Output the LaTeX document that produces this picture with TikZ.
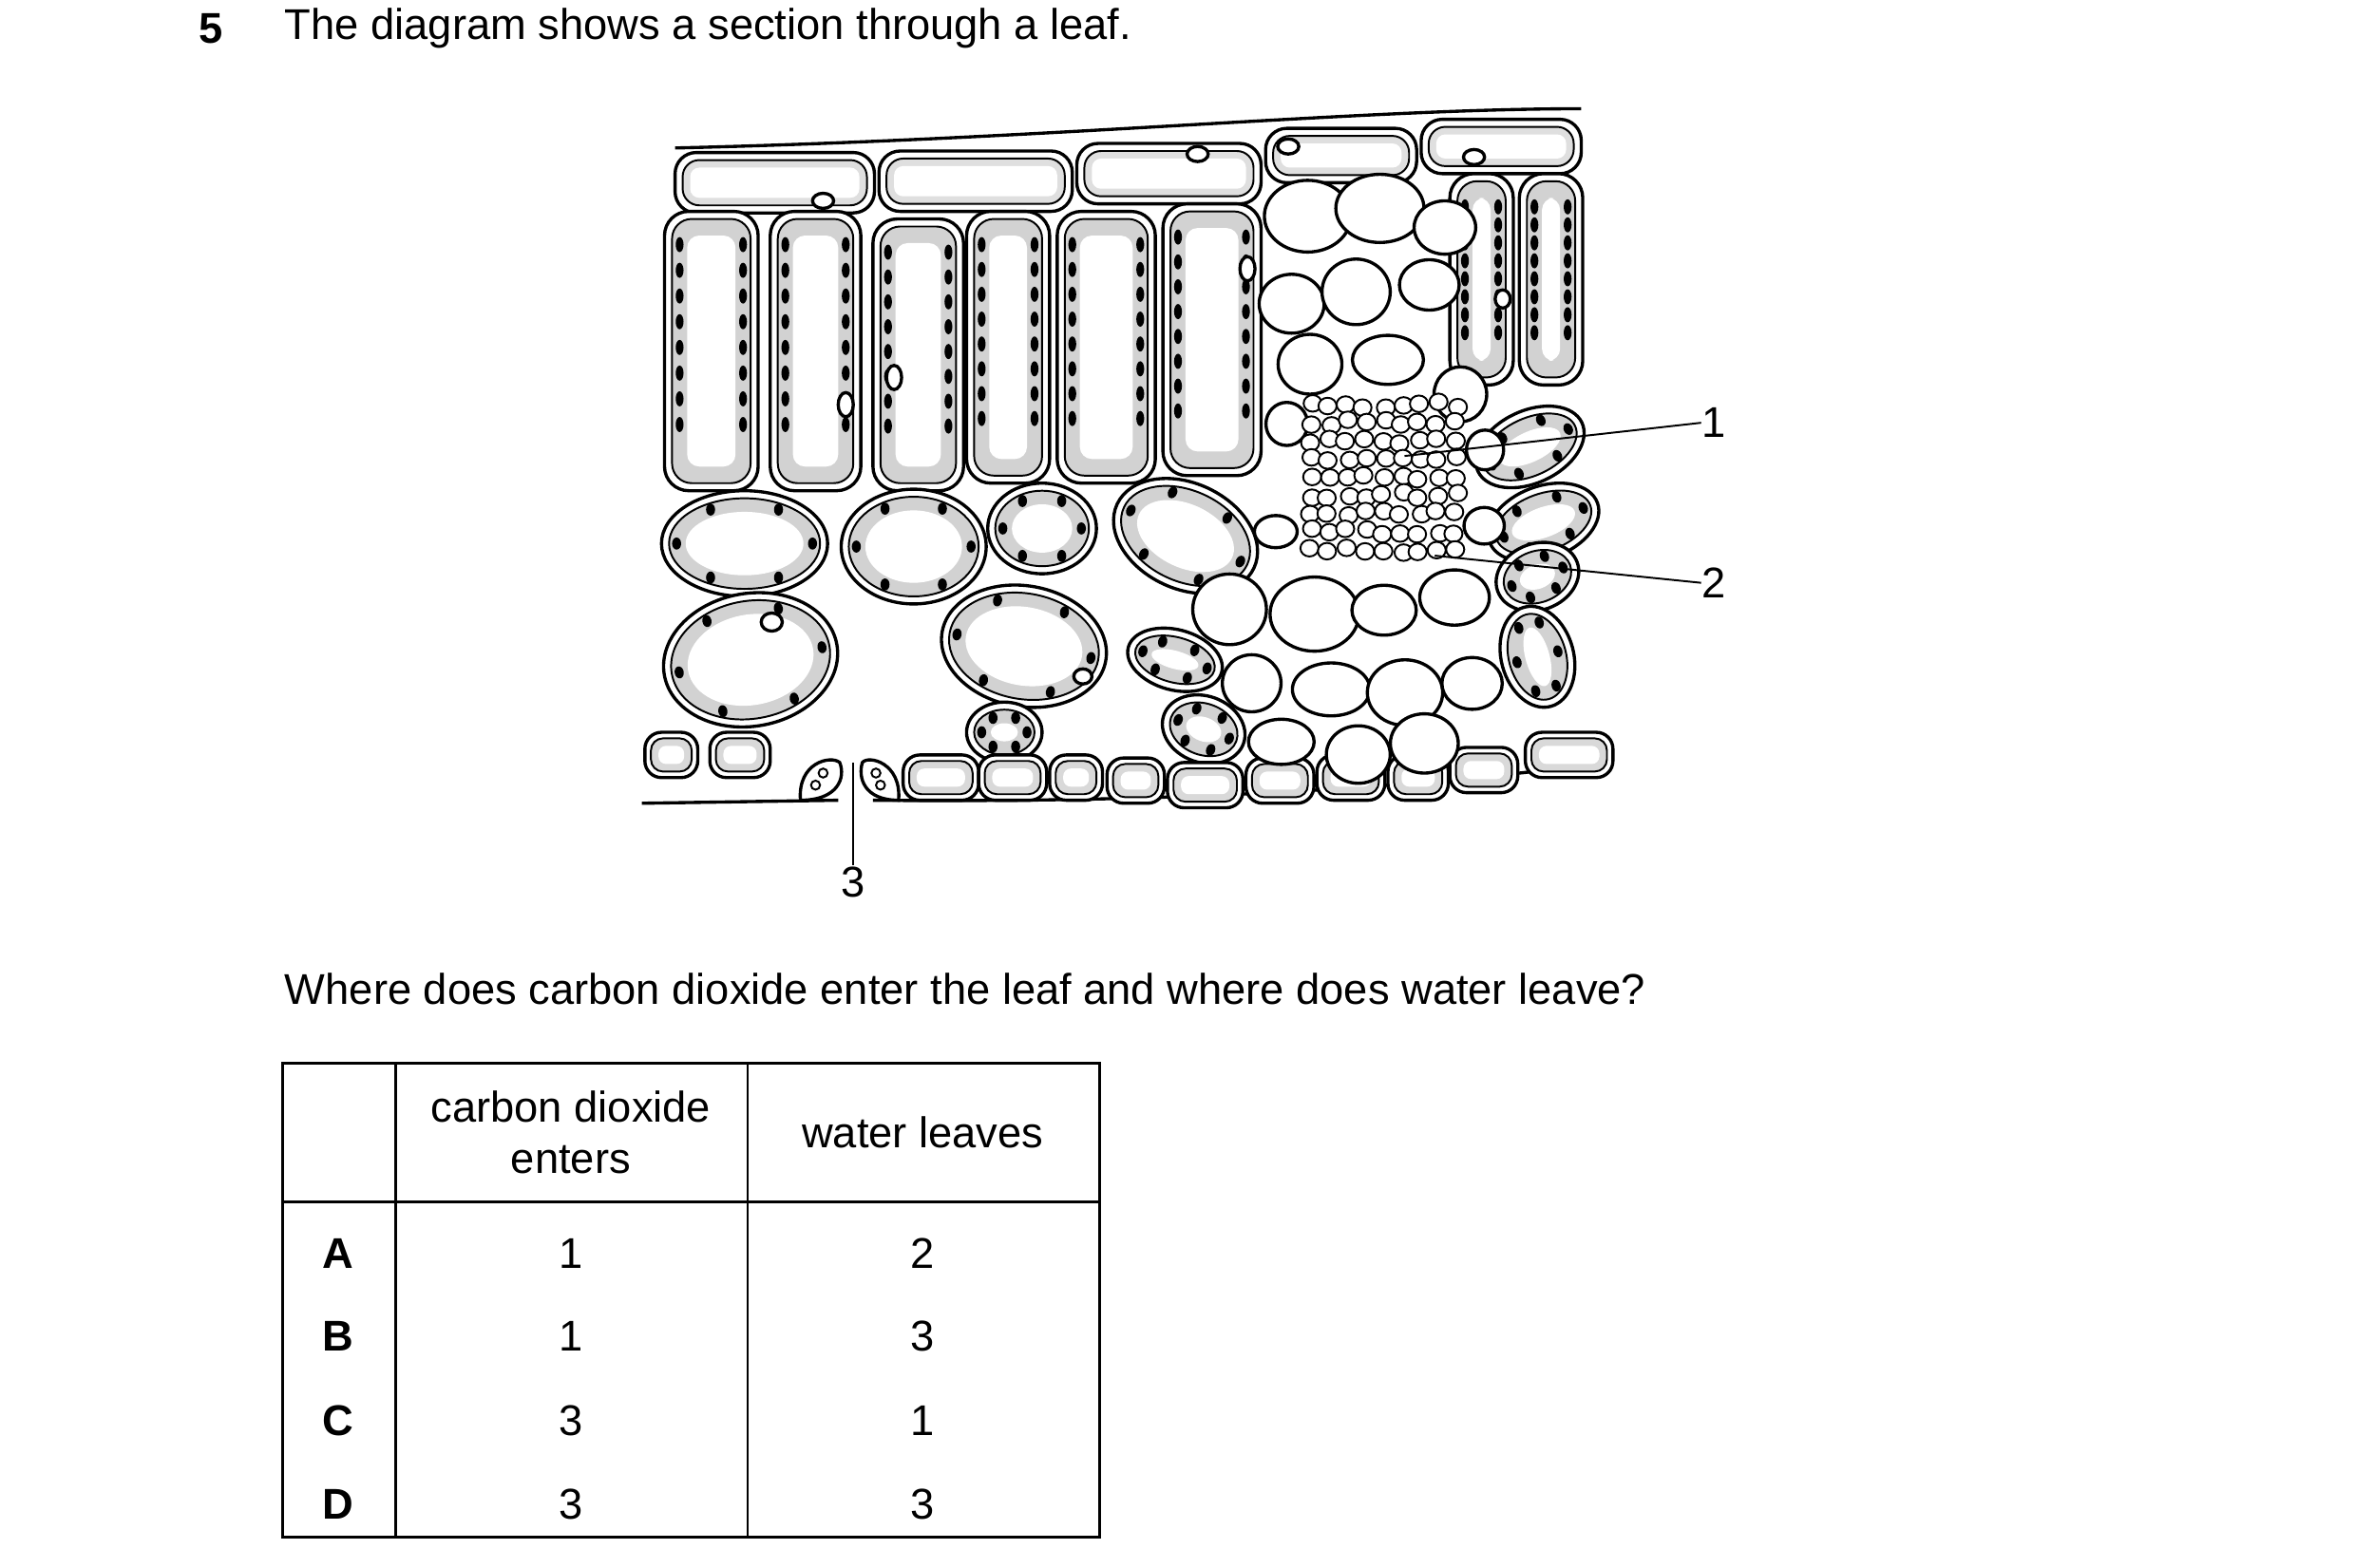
\documentclass[tikz,border=0pt]{standalone}
\usepackage{fontspec}
\setmainfont{Liberation Sans}
\usetikzlibrary{calc}
\begin{document}
\begin{tikzpicture}[x=0.01cm,y=-0.01cm,
  wall/.style={line width=0.6pt,black},
  thin/.style={line width=0.35pt,black},
  txt/.style={font=\fontsize{8.1}{9.5}\selectfont,inner sep=0pt},
  chl/.style={fill=black}]
\useasboundingbox (0,0) rectangle (1560,1038);
\newcommand\palc[4]{%
 \draw[wall,fill=white,rounded corners=1.6mm] (#1,#2) rectangle ++(#3,#4);
 \draw[thin,fill=gray!35,rounded corners=1.3mm] (#1+5,#2+5) rectangle ++(#3-10,#4-10);
 \fill[white,rounded corners=0.8mm] (#1+15,#2+16) rectangle ++(#3-30,#4-32);
 \foreach \t in {0,...,7}{\fill[chl] (#1+10,#2+22+\t*#4/8.8-\t*4) ellipse (2.6 and 5);
   \fill[chl] (#1+#3-10,#2+22+\t*#4/8.8-\t*4) ellipse (2.6 and 5);}
}
\newcommand\spg[5]{%
 \draw[wall,fill=white,rotate around={#5:(#1,#2)}] (#1,#2) ellipse (#3 and #4);
 \draw[thin,fill=gray!35,rotate around={#5:(#1,#2)}] (#1,#2) ellipse (#3-5 and #4-5);
 \fill[white,rotate around={#5:(#1,#2)}] (#1,#2) ellipse (#3-16 and #4-14);
 \foreach \a in {0,60,...,300}{\fill[chl,rotate around={#5:(#1,#2)}] ($(#1,#2)+(\a:#3-10 and #4-9)$) ellipse (3 and 4);}
}
\newcommand\epi[4]{%
 \draw[wall,fill=white,rounded corners=1.4mm] (#1,#2) rectangle ++(#3,#4);
 \draw[thin,fill=gray!25,rounded corners=1.1mm] (#1+5,#2+5) rectangle ++(#3-10,#4-10);
 \fill[white,rounded corners=0.6mm] (#1+10,#2+10) rectangle ++(#3-20,#4-20);
}
% text
\node[txt,anchor=west,font=\fontsize{8.1}{9.5}\selectfont\bfseries] (q) at (131,19) {5};
\node[txt,anchor=west] (qt) at (188,19) {The diagram shows a section through a leaf.};
% upper epidermis
\draw[wall] (447,98) .. controls (700,92) and (900,72) .. (1047,72);
\epi{447}{101}{132}{40}\epi{582}{100}{128}{40}\epi{713}{95}{122}{40}
\epi{838}{85}{100}{36}\epi{941}{79}{106}{36}
\draw[wall,fill=white] (545,133) ellipse (7 and 5);
\draw[wall,fill=white] (793,102) ellipse (7 and 5);
\draw[wall,fill=white] (853,97) ellipse (7 and 5);
\draw[wall,fill=white] (976,104) ellipse (7 and 5);
% palisade
\palc{440}{140}{62}{185}\palc{510}{140}{60}{185}\palc{578}{145}{60}{180}
\palc{640}{140}{55}{180}\palc{700}{140}{65}{180}\palc{770}{135}{65}{180}
\palc{960}{115}{42}{140}\palc{1006}{115}{42}{140}
\draw[wall,fill=white] (592,250) ellipse (5 and 8);
\draw[wall,fill=white] (560,268) ellipse (5 and 8);
\draw[wall,fill=white] (826,178) ellipse (5 and 8);
\draw[wall,fill=white] (995,198) ellipse (5 and 6);
% spongy
\spg{493}{360}{55}{35}{0}\spg{605}{362}{48}{38}{0}\spg{690}{350}{36}{30}{0}
\spg{785}{355}{50}{35}{-25}\spg{497}{437}{58}{44}{10}\spg{678}{428}{55}{40}{-10}
\spg{778}{437}{32}{20}{-15}\spg{665}{485}{25}{20}{0}\spg{797}{483}{28}{22}{-20}
\spg{1013}{296}{38}{24}{25}\spg{1022}{346}{38}{24}{20}\spg{1018}{382}{28}{22}{20}
\spg{1018}{435}{24}{34}{15}
\draw[wall,fill=white] (511,412) ellipse (7 and 6);
\draw[wall,fill=white] (717,448) ellipse (6 and 5);
% lower epidermis
\draw[wall] (425,532) -- (555,530);
\draw[wall] (578,530) .. controls (800,532) and (950,520) .. (1065,505);
\foreach \x/\y/\w in {427/485/35,470/485/40,598/500/50,648/500/45,695/500/35,733/502/38,773/505/50,825/502/45,872/500/45,919/500/40,960/495/45,1010/485/58}
 {\draw[wall,fill=white,rounded corners=1.1mm] (\x,\y) rectangle ++(\w,30);
  \draw[thin,fill=gray!30,rounded corners=0.8mm] (\x+4,\y+4) rectangle ++(\w-8,22);
  \fill[white,rounded corners=0.5mm] (\x+9,\y+9) rectangle ++(\w-18,12);}
% guard cells
\draw[wall,fill=white] (530,530) .. controls (528,505) and (550,500) .. (556,505) .. controls (560,515) and (555,530) .. cycle;
\draw[wall,fill=white] (595,530) .. controls (597,505) and (575,500) .. (571,505) .. controls (568,515) and (572,530) .. cycle;
\foreach \p in {(540,520),(545,512),(583,520),(580,512)}{\draw[thin] \p circle (3);}
% vascular bundle
\pgfmathsetseed{7}
\foreach \cx/\cy/\r in {865/145/28,915/135/28,955/150/20,855/200/22,900/190/24,945/190/20,
 870/240/20,920/235/22,965/260/18,850/280/14,980/300/12,845/350/16,985/345/14,
 815/400/24,870/410/28,920/405/22,965/395/22,
 830/455/22,880/460/24,930/455/24,975/455/22,
 850/495/20,900/500/22,945/495/20}
 {\draw[wall,fill=white] (\cx+rand*4,\cy+rand*4) ellipse (\r+rand*3 and \r*0.85+rand*3);}
\foreach \i in {0,...,8}{\foreach \j in {0,...,8}{
  \draw[thin,fill=white] (868+\i*12+rand*2,268+\j*12+rand*2) ellipse (6 and 5.5);}}
% labels
\node[txt] (n1) at (1135,280) {1};
\node[txt] (n2) at (1135,386) {2};
\node[txt] (n3) at (565,584) {3};
\coordinate (p1) at (930,302);
\coordinate (p2) at (950,368);
\coordinate (p3) at (565,505);
\draw[thin] (p1) -- (n1.west);
\draw[thin] (p2) -- (n2.west);
\draw[thin] (p3) -- (n3.north);
% question
\node[txt,anchor=west] (q2) at (188,655) {Where does carbon dioxide enter the leaf and where does water leave?};
% table
\draw[line width=0.5pt] (187,704) rectangle (728,1018);
\draw[line width=0.5pt] (262,704) -- (262,1018) (495,704) -- (495,1018) (187,796) -- (728,796);
\node[txt,align=center] (h1) at (378,750) {carbon dioxide\\enters};
\node[txt] (h2) at (611,750) {water leaves};
\foreach \l/\a/\b/\y in {A/1/2/830,B/1/3/885,C/3/1/941,D/3/3/996}{
 \node[txt,font=\fontsize{8.1}{9.5}\selectfont\bfseries] (r\l) at (224,\y) {\l};
 \node[txt] (c\l) at (378,\y) {\a};
 \node[txt] (w\l) at (611,\y) {\b};}
\end{tikzpicture}
\end{document}
